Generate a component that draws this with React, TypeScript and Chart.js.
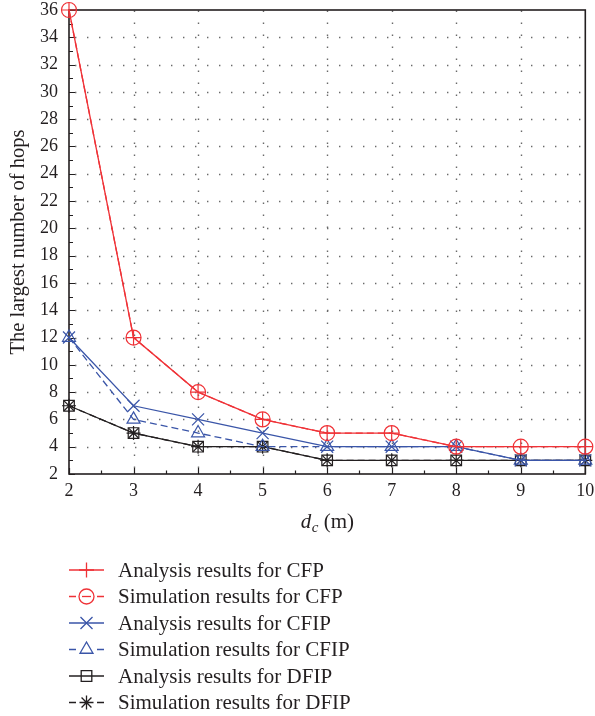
import React, { useEffect, useRef } from 'react';
import { Chart, registerables } from 'chart.js';

Chart.register(...registerables);

// ---- data ----
const categories = [2, 3, 4, 5, 6, 7, 8, 9, 10];
const analysisCFP = [36, 12, 8, 6, 5, 5, 4, 4, 4];
const simulationCFP = [36, 12, 8, 6, 5, 5, 4, 4, 4];
const analysisCFIP = [12, 7, 6, 5, 4, 4, 4, 3, 3];
const simulationCFIP = [12, 6, 5, 4, 4, 4, 4, 3, 3];
const analysisDFIP = [7, 5, 4, 4, 3, 3, 3, 3, 3];
const simulationDFIP = [7, 5, 4, 4, 3, 3, 3, 3, 3];
const seriesLabels = [
  'Analysis results for CFP',
  'Simulation results for CFP',
  'Analysis results for CFIP',
  'Simulation results for CFIP',
  'Analysis results for DFIP',
  'Simulation results for DFIP',
];
const yTitle = 'The largest number of hops';
const xMin = 2;
const xMax = 10;
const yMin = 2;
const yMax = 36;

const RED = '#ef3237';
const BLUE = '#3a55a8';
const BLACK = '#231f20';
const TEXT = '#231f20';
const SERIF = '"Liberation Serif", "DejaVu Serif", serif';

type Style = { color: string; point: string; radius: number; dashed: boolean };
const styles: Style[] = [
  { color: RED, point: 'cross', radius: 7.5, dashed: false },
  { color: RED, point: 'circle', radius: 7.5, dashed: true },
  { color: BLUE, point: 'crossRot', radius: 8.5, dashed: false },
  { color: BLUE, point: 'triangle', radius: 7.5, dashed: true },
  { color: BLACK, point: 'rect', radius: 7.5, dashed: false },
  { color: BLACK, point: 'star', radius: 7, dashed: true },
];
const seriesValues = [analysisCFP, simulationCFP, analysisCFIP, simulationCFIP, analysisDFIP, simulationDFIP];

function drawMarker(ctx: CanvasRenderingContext2D, style: string, x: number, y: number, r: number) {
  ctx.beginPath();
  const d = r * Math.SQRT1_2;
  if (style === 'cross' || style === 'star') {
    ctx.moveTo(x, y - r); ctx.lineTo(x, y + r);
    ctx.moveTo(x - r, y); ctx.lineTo(x + r, y);
  }
  if (style === 'crossRot' || style === 'star') {
    ctx.moveTo(x - d, y - d); ctx.lineTo(x + d, y + d);
    ctx.moveTo(x + d, y - d); ctx.lineTo(x - d, y + d);
  }
  if (style === 'circle') {
    ctx.arc(x, y, r, 0, Math.PI * 2);
  }
  if (style === 'rect') {
    ctx.rect(x - d, y - d, 2 * d, 2 * d);
  }
  if (style === 'triangle') {
    let a = 0;
    ctx.moveTo(x + Math.sin(a) * r, y - Math.cos(a) * r);
    a += (2 * Math.PI) / 3;
    ctx.lineTo(x + Math.sin(a) * r, y - Math.cos(a) * r);
    a += (2 * Math.PI) / 3;
    ctx.lineTo(x + Math.sin(a) * r, y - Math.cos(a) * r);
    ctx.closePath();
  }
  ctx.stroke();
}

const framePlugin = {
  id: 'frame',
  beforeDatasetsDraw(chart: any) {
    const { ctx, chartArea } = chart;
    const xs = chart.scales.x;
    const ys = chart.scales.y;
    const { left, right, top, bottom } = chartArea;
    ctx.save();
    // dotted grid
    ctx.strokeStyle = '#6a6a6a';
    ctx.lineWidth = 1.4;
    ctx.setLineDash([1.4, 10.6]);
    for (let v = xMin + 1; v < xMax; v++) {
      const px = Math.round(xs.getPixelForValue(v)) + 0.5;
      ctx.beginPath();
      ctx.moveTo(px, bottom - 6);
      ctx.lineTo(px, top);
      ctx.stroke();
    }
    for (let v = yMin + 2; v < yMax; v += 2) {
      const py = Math.round(ys.getPixelForValue(v)) + 0.5;
      ctx.beginPath();
      ctx.moveTo(left + 6, py);
      ctx.lineTo(right, py);
      ctx.stroke();
    }
    ctx.setLineDash([]);
    // ticks
    ctx.strokeStyle = BLACK;
    ctx.lineWidth = 1.2;
    ctx.beginPath();
    for (let v = xMin; v <= xMax; v += 0.5) {
      const px = Math.round(xs.getPixelForValue(v)) + 0.5;
      const len = Number.isInteger(v) ? 6 : 3.5;
      ctx.moveTo(px, bottom);
      ctx.lineTo(px, bottom - len);
    }
    for (let v = yMin; v <= yMax; v += 1) {
      const py = Math.round(ys.getPixelForValue(v)) + 0.5;
      const len = v % 2 === 0 ? 6 : 4;
      ctx.moveTo(left, py);
      ctx.lineTo(left + len, py);
    }
    ctx.stroke();
    // box
    ctx.lineWidth = 1.6;
    ctx.strokeRect(left, top, right - left, bottom - top);
    ctx.restore();
  },
  afterDraw(chart: any) {
    const { ctx, chartArea } = chart;
    ctx.save();
    // x title: d_c (m)
    const big = `italic 21px ${SERIF}`;
    const small = `italic 15px ${SERIF}`;
    const reg = `21px ${SERIF}`;
    ctx.font = big;
    const wd = ctx.measureText('d').width;
    ctx.font = small;
    const wc = ctx.measureText('c').width;
    ctx.font = reg;
    const wm = ctx.measureText(' (m)').width;
    const total = wd + wc + wm;
    const cx = (chartArea.left + chartArea.right) / 2;
    const x0 = cx - total / 2;
    const base = 528;
    ctx.fillStyle = TEXT;
    ctx.textBaseline = 'alphabetic';
    ctx.textAlign = 'left';
    ctx.font = big;
    ctx.fillText('d', x0, base);
    ctx.font = small;
    ctx.fillText('c', x0 + wd + 0.5, base + 4);
    ctx.font = reg;
    ctx.fillText(' (m)', x0 + wd + wc + 0.5, base);

    // legend
    const rowY0 = 570;
    const rowGap = 26.5;
    const lx0 = 69;
    const lx1 = 104;
    const mx = (lx0 + lx1) / 2;
    ctx.font = `21px ${SERIF}`;
    ctx.textBaseline = 'middle';
    seriesLabels.forEach((label, i) => {
      const st = styles[i];
      const y = rowY0 + i * rowGap;
      ctx.strokeStyle = st.color;
      ctx.lineWidth = 1.3;
      ctx.beginPath();
      if (st.dashed) {
        ctx.moveTo(lx0, y); ctx.lineTo(lx0 + 7, y);
        ctx.moveTo(lx1 - 7, y); ctx.lineTo(lx1, y);
      } else {
        ctx.moveTo(lx0, y); ctx.lineTo(lx1, y);
      }
      ctx.stroke();
      drawMarker(ctx, st.point, mx, y, st.point === 'circle' || st.point === 'cross' ? 7.5 : st.radius);
      if (st.point === 'circle') {
        ctx.beginPath();
        ctx.moveTo(mx - 4.5, y); ctx.lineTo(mx + 4.5, y);
        ctx.stroke();
      }
      ctx.fillStyle = TEXT;
      ctx.fillText(label, 118, y + 1);
    });
    ctx.restore();
  },
};

export default function App() {
  const ref = useRef<HTMLCanvasElement | null>(null);
  useEffect(() => {
    if (!ref.current) return;
    const datasets = seriesValues.map((vals, i) => {
      const st = styles[i];
      return {
        label: seriesLabels[i],
        data: categories.map((c, j) => ({ x: c, y: vals[j] })),
        borderColor: st.color,
        backgroundColor: 'transparent',
        borderWidth: 1.3,
        borderDash: st.dashed ? [7, 4] : [],
        pointStyle: st.point,
        pointRadius: st.radius,
        pointHoverRadius: st.radius,
        pointBorderColor: st.color,
        pointBackgroundColor: 'transparent',
        pointBorderWidth: 1.2,
        fill: false,
        tension: 0,
        clip: false,
      };
    });
    const chart = new Chart(ref.current, {
      type: 'line',
      data: { datasets } as any,
      options: {
        animation: false,
        responsive: false,
        maintainAspectRatio: false,
        layout: { padding: { top: 10, right: 9, left: 0, bottom: 0 } },
        plugins: { legend: { display: false }, tooltip: { enabled: false } },
        scales: {
          x: {
            type: 'linear',
            min: xMin,
            max: xMax,
            afterFit: (s: any) => {
              s.height = 242;
              s.paddingLeft = 0;
              s.paddingRight = 0;
            },
            ticks: { stepSize: 1, color: TEXT, font: { family: SERIF, size: 18 }, padding: 6 },
            grid: { display: false, drawTicks: false },
            border: { display: false },
          },
          y: {
            type: 'linear',
            min: yMin,
            max: yMax,
            afterFit: (s: any) => {
              s.width = 69;
              s.paddingTop = 0;
              s.paddingBottom = 0;
            },
            ticks: { stepSize: 2, color: TEXT, font: { family: SERIF, size: 18 }, padding: 11 },
            grid: { display: false, drawTicks: false },
            border: { display: false },
            title: {
              display: true,
              text: yTitle,
              color: TEXT,
              font: { family: SERIF, size: 20.5 },
              padding: { top: 6, bottom: 0 },
            },
          },
        },
      },
      plugins: [framePlugin],
    } as any);
    return () => chart.destroy();
  }, []);
  return (
    <div style={{ position: 'fixed', left: 0, top: 0, width: 595, height: 716, background: '#fff' }}>
      <canvas ref={ref} width={595} height={716} style={{ width: 595, height: 716, display: 'block' }} />
    </div>
  );
}
